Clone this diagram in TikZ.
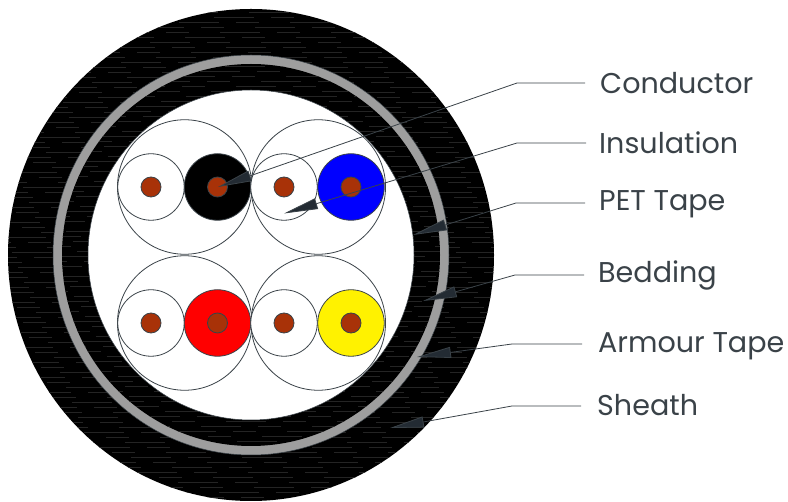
\documentclass[tikz,border=0pt]{standalone}
\usepackage{fontspec}
\setmainfont{Poppins}
\usepackage{tikz}
\usetikzlibrary{arrows.meta,calc}
\definecolor{copper}{HTML}{A83208}
\definecolor{inkgrey}{HTML}{3A4248}
\definecolor{headgrey}{HTML}{232B33}
\tikzstyle{line} = [draw=inkgrey, line width=0.8pt, -{Triangle[length=34pt,width=11pt,fill=headgrey]}]
\tikzstyle{label} = [anchor=base west, inner sep=0pt, text=inkgrey, font=\fontsize{28.6}{28.6}\selectfont]
\tikzstyle{wire} = [draw=inkgrey, line width=0.8pt, fill=white, circle, minimum size=66.5pt, inner sep=0pt]
\tikzstyle{pair} = [draw=inkgrey, line width=0.8pt, circle, minimum size=134.5pt, inner sep=0pt]
\tikzstyle{core} = [draw=inkgrey, line width=0.8pt, fill=copper, circle, minimum size=20pt, inner sep=0pt]
\tikzstyle{streak} = [draw=white!14!black, line width=0.3pt, dash pattern=on 40pt off 17pt on 23pt off 31pt]
\begin{document}
\begin{tikzpicture}[x=1pt, y=-1pt]
        \useasboundingbox (0,0) rectangle (788,502);
        % sheath, armour tape, bedding
        \fill[black] (251,255) ellipse [x radius=243, y radius=246];
        \begin{scope}
            \clip (251,255) ellipse [x radius=243, y radius=246];
            \foreach \y in {12,17,...,498} {
                \draw[streak, dash phase=\y*7] (0,\y) -- (500,\y);
            }
        \end{scope}
        \draw[inkgrey, fill=white!62!black, line width=0.5pt] (251,255) ellipse [x radius=198, y radius=200];
        \fill[black] (251,255) ellipse [x radius=189, y radius=191];
        \begin{scope}
            \clip (251,255) ellipse [x radius=189, y radius=191];
            \foreach \y in {66,71,...,444} {
                \draw[streak, dash phase=\y*5] (0,\y) -- (500,\y);
            }
        \end{scope}
        \draw[inkgrey, fill=white, line width=0.5pt] (251,255) ellipse [x radius=163, y radius=165];
        % the four pairs
        \node[pair] (pairA) at (184.7,187) {};
        \node[pair] (pairB) at (318.3,187) {};
        \node[pair] (pairC) at (184.7,323) {};
        \node[pair] (pairD) at (318.3,323) {};
        \foreach \name/\xpos/\ypos/\tint in {wireA/151/187/white, wireB/217.5/187/black, wireC/284/187/white, wireD/351/187/blue,
                wireE/151/323/white, wireF/217.5/323/red, wireG/284/323/white, wireH/351/323/yellow} {
            \node[wire, fill=\tint] (\name) at (\xpos,\ypos) {};
            \node[core] (core\name) at (\xpos,\ypos) {};
        }
        % labels
        \node[label] (conductor) at (600,94) {Conductor};
        \node[label] (insulation) at (599,154) {Insulation};
        \node[label] (pet) at (599,211) {PET Tape};
        \node[label] (bedding) at (598,283) {Bedding};
        \node[label] (armour) at (598,353) {Armour Tape};
        \node[label] (sheath) at (597,416) {Sheath};
        % arrow tips
        \coordinate (tipconductor) at (218,187);
        \coordinate (tipinsulation) at (284,213.5);
        \coordinate (tippet) at (413,235);
        \coordinate (tipbedding) at (423,301);
        \coordinate (tiparmour) at (417,357);
        \coordinate (tipsheath) at (390,428);
        \coordinate (endconductor) at (585,83);
        \coordinate (endinsulation) at (586,143);
        \coordinate (endpet) at (585,203);
        \coordinate (endbedding) at (584,275);
        \coordinate (endarmour) at (582,344);
        \coordinate (endsheath) at (581,406);
        \path[line] (endconductor) -- (517,83) -- (tipconductor);
        \path[line] (endinsulation) -- (517,143) -- (tipinsulation);
        \path[line] (endpet) -- (516,203) -- (tippet);
        \path[line] (endbedding) -- (515,275) -- (tipbedding);
        \path[line] (endarmour) -- (512,344) -- (tiparmour);
        \path[line] (endsheath) -- (512,406) -- (tipsheath);
    \end{tikzpicture}
\end{document}
